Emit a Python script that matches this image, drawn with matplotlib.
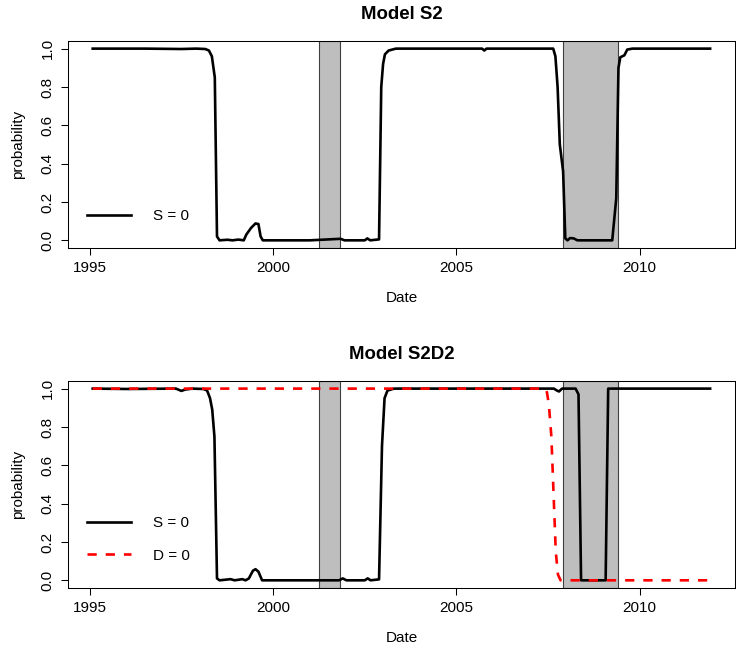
import matplotlib
matplotlib.use("Agg")
import matplotlib.pyplot as plt

plt.rcParams['font.family'] = ['Liberation Sans', 'DejaVu Sans']

# NBER recessions (shaded)
rec_start = [2001.25, 2007.92]
rec_end = [2001.83, 2009.42]

# Model S2: probability of S = 0
s2_dates = [1995.08, 1996.5, 1997.5, 1997.9, 1998.15, 1998.25, 1998.33, 1998.41,
            1998.47, 1998.54, 1998.75, 1998.9, 1999.05, 1999.2, 1999.27, 1999.4,
            1999.52, 1999.6, 1999.66, 1999.72, 2001.0, 2001.84, 2001.95, 2002.5,
            2002.57, 2002.65, 2002.89, 2002.95, 2003.0, 2003.05, 2003.15, 2003.35,
            2005.7, 2005.76, 2005.82, 2007.64, 2007.70, 2007.76, 2007.82, 2007.91,
            2007.97, 2008.03, 2008.1, 2008.2, 2008.3, 2009.25, 2009.36, 2009.42,
            2009.47, 2009.58, 2009.66, 2009.8, 2011.92]
s2_prob = [1.0, 1.0, 0.998, 1.0, 0.998, 0.99, 0.96, 0.85,
           0.02, 0.0, 0.003, 0.0, 0.004, 0.0, 0.03, 0.065,
           0.088, 0.085, 0.02, 0.0, 0.0, 0.008, 0.0, 0.0,
           0.01, 0.0, 0.005, 0.8, 0.92, 0.97, 0.99, 1.0,
           1.0, 0.99, 1.0, 1.0, 0.96, 0.8, 0.5, 0.36,
           0.01, 0.0, 0.012, 0.01, 0.0, 0.0, 0.22, 0.9,
           0.955, 0.965, 0.995, 1.0, 1.0]

# Model S2D2: probability of S = 0 and D = 0
s2d2_dates = [1995.08, 1996.0, 1997.35, 1997.5, 1997.6, 1997.8, 1998.1, 1998.2,
              1998.28, 1998.34, 1998.40, 1998.47, 1998.54, 1998.84, 1998.95, 1999.16,
              1999.25, 1999.34, 1999.45, 1999.52, 1999.6, 1999.70, 2001.8, 2001.9,
              2002.0, 2002.5, 2002.58, 2002.66, 2002.89, 2002.97, 2003.04, 2003.12,
              2003.3, 2007.66, 2007.74, 2007.80, 2007.88, 2008.25, 2008.33, 2008.40,
              2009.07, 2009.14, 2011.92]
s2d2_s = [1.0, 0.998, 1.0, 0.988, 0.995, 1.0, 0.998, 0.99,
          0.95, 0.89, 0.75, 0.01, 0.0, 0.006, 0.0, 0.006,
          0.0, 0.01, 0.05, 0.058, 0.045, 0.0, 0.0, 0.01,
          0.0, 0.0, 0.01, 0.0, 0.005, 0.7, 0.95, 0.99,
          1.0, 1.0, 0.99, 0.985, 1.0, 1.0, 0.97, 0.0,
          0.0, 1.0, 1.0]
d_dates = [1995.08, 2007.42, 2007.47, 2007.52, 2007.59, 2007.66, 2007.71, 2007.77,
           2007.84, 2011.92]
d_prob = [1.0, 1.0, 0.98, 0.92, 0.75, 0.4, 0.15, 0.03, 0.0, 0.0]

years = [1995, 2000, 2005, 2010]
prob_ticks = [0.0, 0.2, 0.4, 0.6, 0.8, 1.0]

FS = 11


def style_axes(ax, title):
    span = s2_dates[-1] - s2_dates[0]
    ax.set_xlim(s2_dates[0] - 0.04 * span, s2_dates[-1] + 0.04 * span)
    ax.set_ylim(-0.04, 1.04)
    ax.set_xticks(years)
    ax.set_yticks(prob_ticks)
    ax.set_yticklabels(['%.1f' % v for v in prob_ticks], rotation=90, va='center')
    ax.tick_params(axis='both', direction='out', length=5, width=0.75,
                   labelsize=FS, colors='black')
    ax.tick_params(axis='x', pad=4.5)
    ax.tick_params(axis='y', pad=4.5)
    for sp in ax.spines.values():
        sp.set_linewidth(0.75)
    ax.set_xlabel('Date', fontsize=FS, labelpad=11.5)
    ax.set_ylabel('probability', fontsize=FS, labelpad=11.5)
    ax.set_title(title, fontsize=13.4, fontweight='bold', pad=16)
    for a, b in zip(rec_start, rec_end):
        ax.axvspan(a, b, facecolor='#BEBEBE', edgecolor='#404040', lw=0.8, zorder=1)


fig = plt.figure(figsize=(7.36, 6.45), dpi=100)

ax1 = fig.add_axes([0.0924, 0.6155, 0.906, 0.321])
style_axes(ax1, 'Model S2')
ax1.plot(s2_dates, s2_prob, color='black', lw=1.9, label='S = 0', zorder=3)
ax1.legend(loc='center left', bbox_to_anchor=(0.0285, 0.1546), frameon=False,
           fontsize=FS, handlelength=2.9, handletextpad=1.45, borderpad=0,
           borderaxespad=0)

ax2 = fig.add_axes([0.0924, 0.0884, 0.906, 0.321])
style_axes(ax2, 'Model S2D2')
ax2.plot(s2d2_dates, s2d2_s, color='black', lw=1.9, label='S = 0', zorder=3)
ax2.plot(d_dates, d_prob, color='#FF0000', lw=1.9, dashes=(3.5, 3.4),
         label='D = 0', zorder=4)
ax2.legend(loc='center left', bbox_to_anchor=(0.0285, 0.2347), frameon=False,
           fontsize=FS, handlelength=2.9, handletextpad=1.45, borderpad=0,
           borderaxespad=0, labelspacing=1.2)

fig.savefig('out.png', dpi=100)
